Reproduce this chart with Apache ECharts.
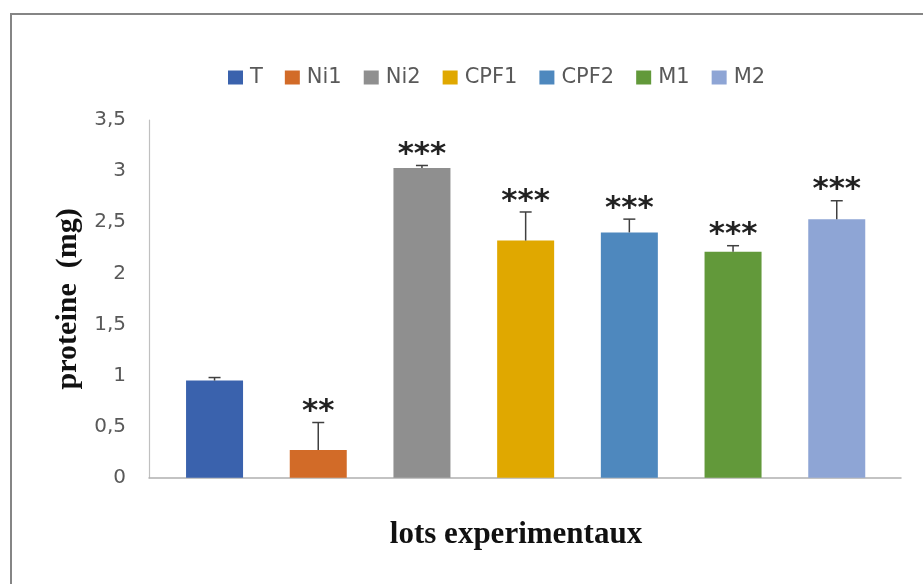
<!DOCTYPE html>
<html>
<head>
<meta charset="utf-8">
<script src="https://cdn.jsdelivr.net/npm/echarts@6/dist/echarts.min.js"></script>
<style>
  html, body { margin: 0; padding: 0; background: #ffffff; }
  #frame { position: absolute; left: 10px; top: 13px; width: 1000px; height: 1000px; border: 2px solid #858585; box-sizing: border-box; }
  #chart { position: absolute; left: 0; top: 0; width: 923px; height: 584px; }
</style>
</head>
<body>
<div id="frame"></div>
<div id="chart"></div>
<script>
const groups = ['T', 'Ni1', 'Ni2', 'CPF1', 'CPF2', 'M1', 'M2'];
const means = [0.95, 0.27, 3.03, 2.32, 2.40, 2.21, 2.53];
const errors = [0.03, 0.27, 0.025, 0.28, 0.13, 0.06, 0.18];
const signif = ['', '**', '***', '***', '***', '***', '***'];
const colors = ['#3a62ad', '#d26b28', '#8f8f8f', '#e0a800', '#4e88be', '#62993a', '#8ea5d5'];
const yTicks = [0, 0.5, 1, 1.5, 2, 2.5, 3, 3.5];

const chart = echarts.init(document.getElementById('chart'), null, { renderer: 'canvas' });

const barSeries = groups.map((g, i) => ({
  type: 'bar',
  name: g,
  xAxisIndex: 0,
  yAxisIndex: 0,
  barWidth: 57,
  barGap: '-100%',
  itemStyle: { color: colors[i] },
  data: groups.map((_, j) => (j === i ? means[i] : '-')),
  z: 2
}));

const errSeries = {
  type: 'custom',
  xAxisIndex: 0,
  yAxisIndex: 0,
  z: 5,
  data: groups.map((g, i) => [i, means[i], errors[i], signif[i]]),
  renderItem: function (params, api) {
    const i = api.value(0);
    const m = api.value(1);
    const e = api.value(2);
    const s = signif[i];
    const base = api.coord([i, m]);
    const top = api.coord([i, m + e]);
    const cap = 6;
    const st = { stroke: '#404040', lineWidth: 1.5 };
    const children = [
      { type: 'line', shape: { x1: base[0], y1: base[1], x2: top[0], y2: top[1] }, style: st },
      { type: 'line', shape: { x1: top[0] - cap, y1: top[1], x2: top[0] + cap, y2: top[1] }, style: st }
    ];
    if (s) {
      children.push({
        type: 'text',
        style: {
          text: s,
          x: top[0],
          y: top[1] + 5,
          align: 'center',
          verticalAlign: 'bottom',
          fill: '#222222',
          font: 'bold 31px "DejaVu Sans"'
        }
      });
    }
    return { type: 'group', children: children };
  }
};

const option = {
  backgroundColor: 'transparent',
  animation: false,
  legend: {
    data: groups,
    left: 223,
    top: 62,
    itemWidth: 15,
    itemHeight: 14,
    itemGap: 22,
    icon: 'rect',
    textStyle: { fontFamily: 'DejaVu Sans', fontSize: 21, color: '#595959', padding: [0, 0, 0, 2] }
  },
  grid: [
    { left: 162.7, right: 34.4, top: 120, bottom: 106.3 },
    { left: 149, right: 22, top: 120, bottom: 106.3 }
  ],
  xAxis: [
    {
      type: 'category', gridIndex: 0, data: groups,
      show: false
    },
    {
      type: 'category', gridIndex: 1, data: ['lots'],
      axisLine: { show: true, lineStyle: { color: '#b0b0b0', width: 1.5 } },
      axisTick: { show: false },
      axisLabel: { show: false },
      name: 'lots experimentaux',
      nameLocation: 'middle',
      nameGap: 42,
      nameTextStyle: { fontFamily: 'Liberation Serif', fontWeight: 'bold', fontSize: 31, color: '#111111', padding: [0, 18, 0, 0] }
    }
  ],
  yAxis: [
    {
      type: 'value', gridIndex: 0, min: 0, max: 3.5, interval: 0.5, show: false
    },
    {
      type: 'value', gridIndex: 1, min: 0, max: 3.5, interval: 0.5,
      splitLine: { show: false },
      axisLine: { show: true, lineStyle: { color: '#c0c0c0', width: 1.2 } },
      axisTick: { show: false },
      axisLabel: {
        margin: 23,
        fontFamily: 'DejaVu Sans',
        fontSize: 20,
        color: '#595959',
        padding: [8, 0, 0, 0],
        formatter: function (v) {
          const t = yTicks.find(x => Math.abs(x - v) < 1e-9);
          return String(t === undefined ? v : t).replace('.', ',');
        }
      },
      name: 'proteine  (mg)',
      nameLocation: 'middle',
      nameRotate: 90,
      nameGap: 64,
      nameTextStyle: { fontFamily: 'Liberation Serif', fontWeight: 'bold', fontSize: 30, color: '#111111' }
    }
  ],
  series: barSeries.concat([errSeries])
};

chart.setOption(option);
</script>
</body>
</html>
